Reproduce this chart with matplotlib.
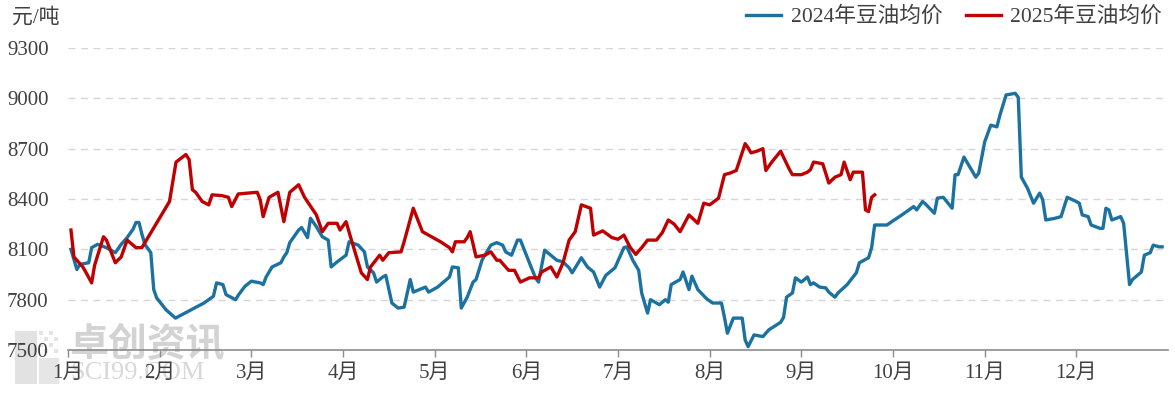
import calendar
import matplotlib
matplotlib.use("Agg")
import matplotlib.pyplot as plt
from matplotlib.patches import Rectangle

# ---------------- data ----------------
dates_2024 = [
    "01-02", "01-04", "01-05", "01-08", "01-09", "01-11", "01-14", "01-17", "01-19", "01-21",
    "01-23", "01-24", "01-25", "01-26", "01-27", "01-29", "01-30", "01-31",
    "02-03", "02-06", "02-08", "02-11", "02-15", "02-18", "02-19", "02-21", "02-22", "02-25",
    "02-26", "02-28",
    "03-01", "03-04", "03-05", "03-06", "03-08", "03-11", "03-12", "03-13", "03-14", "03-17",
    "03-18", "03-20", "03-21", "03-23", "03-25", "03-27", "03-28", "03-30",
    "04-02", "04-03", "04-06", "04-08", "04-09", "04-11", "04-12", "04-14", "04-15", "04-17",
    "04-19", "04-21", "04-23", "04-24", "04-28", "04-29",
    "05-02", "05-06", "05-07", "05-09", "05-10", "05-12", "05-14", "05-15", "05-17", "05-20",
    "05-22", "05-24", "05-25", "05-27", "05-29", "05-30", "05-31",
    "06-02", "06-04", "06-05", "06-07", "06-09", "06-11", "06-13", "06-15", "06-16", "06-19",
    "06-21", "06-23", "06-25", "06-27", "06-30",
    "07-03", "07-04", "07-06", "07-08", "07-09", "07-11", "07-12", "07-15", "07-17", "07-18",
    "07-19", "07-22", "07-23", "07-25", "07-26", "07-28", "07-31",
    "08-02", "08-05", "08-06", "08-07", "08-09", "08-12", "08-13", "08-14", "08-16", "08-19",
    "08-21", "08-25", "08-26", "08-27", "08-29", "08-30",
    "09-01", "09-03", "09-04", "09-05", "09-07", "09-09", "09-10", "09-12", "09-13", "09-16",
    "09-19", "09-20", "09-23", "09-24", "09-25", "09-29",
    "10-01", "10-04", "10-08", "10-09", "10-11", "10-12", "10-15", "10-16", "10-18", "10-21",
    "10-22", "10-23", "10-25", "10-29", "10-30",
    "11-01", "11-03", "11-05", "11-06", "11-08", "11-11", "11-12", "11-13", "11-15", "11-17",
    "11-19", "11-20", "11-21", "11-24", "11-26", "11-28",
    "12-01", "12-02", "12-03", "12-05", "12-06", "12-09", "12-10", "12-11", "12-12", "12-13",
    "12-16", "12-17", "12-19", "12-20", "12-23", "12-24", "12-26", "12-27", "12-29", "12-30",
]
price_2024 = [
    8100, 7980, 8010, 8020, 8110, 8130, 8110, 8080, 8130, 8170,
    8220, 8260, 8260, 8190, 8130, 8080, 7860, 7810,
    7740, 7690, 7710, 7740, 7780, 7820, 7900, 7890, 7830, 7800,
    7830, 7880,
    7910, 7900, 7890, 7935, 7995, 8020, 8055, 8080, 8140, 8215,
    8230, 8170, 8285, 8235, 8175, 8155, 7995, 8025,
    8065, 8145, 8125, 8085, 7995, 7960, 7905, 7935, 7945, 7780,
    7750, 7755, 7920, 7845, 7875, 7845,
    7875, 7935, 7995, 7990, 7750, 7815, 7905, 7920, 8035, 8125,
    8140, 8125, 8085, 8065, 8155, 8155, 8110,
    8020, 7930, 7905, 8095, 8065, 8035, 8025, 7990, 7960, 8050,
    7995, 7965, 7875, 7945, 7990,
    8110, 8115, 8035, 7975, 7840, 7720, 7800, 7770, 7800, 7785,
    7890, 7920, 7965, 7860, 7940, 7860, 7805,
    7780, 7780, 7695, 7600, 7690, 7690, 7560, 7520, 7590, 7580,
    7620, 7665, 7695, 7815, 7840, 7930,
    7905, 7935, 7890, 7900, 7875, 7870, 7845, 7815, 7840, 7890,
    7960, 8020, 8050, 8110, 8245, 8245,
    8270, 8305, 8355, 8335, 8385, 8370, 8315, 8405, 8410, 8345,
    8545, 8545, 8650, 8530, 8555,
    8740, 8840, 8830, 8900, 9020, 9030, 9005, 8530, 8465, 8375,
    8435, 8395, 8275, 8285, 8295, 8410,
    8385, 8375, 8305, 8295, 8245, 8225, 8225, 8345, 8335, 8275,
    8295, 8255, 7890, 7920, 7965, 8065, 8080, 8125, 8115, 8115,
]

dates_2025 = [
    "01-02", "01-03", "01-06", "01-07", "01-09", "01-10", "01-13", "01-14", "01-17", "01-19",
    "01-21", "01-24", "01-26",
    "02-04", "02-06", "02-07", "02-09", "02-10", "02-11", "02-12", "02-14", "02-16", "02-17",
    "02-20", "02-22", "02-23", "02-25",
    "03-03", "03-04", "03-05", "03-07", "03-10", "03-12", "03-14", "03-17", "03-19", "03-23",
    "03-25", "03-27", "03-30", "03-31",
    "04-02", "04-04", "04-07", "04-09", "04-10", "04-13", "04-14", "04-16", "04-20", "04-21",
    "04-24", "04-27",
    "05-03", "05-06", "05-07", "05-08", "05-11", "05-12", "05-13", "05-15", "05-18", "05-20",
    "05-22", "05-23", "05-26", "05-28", "05-30",
    "06-02", "06-05", "06-06", "06-09", "06-11", "06-13", "06-15", "06-17", "06-19", "06-22",
    "06-23", "06-26", "06-29",
    "07-01", "07-03", "07-05", "07-07", "07-09", "07-11", "07-14", "07-16", "07-18", "07-20",
    "07-22", "07-25", "07-28", "07-30",
    "08-01", "08-04", "08-06", "08-08", "08-10", "08-13", "08-14", "08-15", "08-17", "08-19",
    "08-20", "08-22", "08-25", "08-28", "08-29",
    "09-01", "09-03", "09-04", "09-05", "09-08", "09-10", "09-12", "09-14", "09-15", "09-17",
    "09-18", "09-21", "09-22", "09-23", "09-24", "09-25",
]
price_2025 = [
    8215, 8055, 7995, 7965, 7900, 8005, 8175, 8155, 8020, 8055,
    8155, 8110, 8110,
    8385, 8620, 8635, 8665, 8635, 8455, 8440, 8385, 8365, 8425,
    8420, 8410, 8355, 8430,
    8440, 8395, 8295, 8410, 8440, 8265, 8440, 8485, 8410, 8305,
    8205, 8255, 8255, 8215,
    8265, 8140, 7960, 7920, 7995, 8065, 8035, 8080, 8085, 8145,
    8345, 8205,
    8145, 8110, 8085, 8145, 8145, 8170, 8205, 8055, 8065, 8085,
    8035, 8035, 7975, 7975, 7905,
    7930, 7930, 7965, 7995, 7935, 8020, 8155, 8205, 8365, 8345,
    8185, 8210, 8170,
    8160, 8185, 8115, 8070, 8110, 8155, 8155, 8200, 8275, 8250,
    8205, 8305, 8255, 8375,
    8365, 8405, 8545, 8555, 8570, 8730, 8705, 8675, 8685, 8700,
    8570, 8620, 8685, 8575, 8545,
    8545, 8560, 8575, 8620, 8610, 8495, 8530, 8545, 8620, 8515,
    8560, 8560, 8335, 8325, 8410, 8425,
]

month_labels = ["1月", "2月", "3月", "4月", "5月", "6月", "7月", "8月", "9月", "10月", "11月", "12月"]
y_ticks = [7500, 7800, 8100, 8400, 8700, 9000, 9300]
series_names = ["2024年豆油均价", "2025年豆油均价"]
unit_label = "元/吨"


def month_pos(year, mmdd):
    m, d = (int(s) for s in mmdd.split("-"))
    ndays = calendar.monthrange(year, m)[1]
    return (m - 1) + (d - 1) / ndays


x24 = [month_pos(2024, s) for s in dates_2024]
x25 = [month_pos(2025, s) for s in dates_2025]

# ---------------- style ----------------
FONT = ["Liberation Serif", "Noto Sans CJK SC", "DejaVu Sans"]
plt.rcParams["font.family"] = FONT
TXT = "#404040"
BLUE = "#1b72a0"
RED = "#c00000"

W, H = 1175, 394
fig = plt.figure(figsize=(W / 100, H / 100), dpi=100)

# watermark (drawn first, behind everything)
wm = fig.add_axes([0, 0, 1, 1], zorder=-5)
wm.set_axis_off()
wm.set_xlim(0, W)
wm.set_ylim(H, 0)
wm.add_patch(Rectangle((15, 331), 22, 53, facecolor="#e2e2e2", edgecolor="none"))
wm.add_patch(Rectangle((39, 358), 20, 26, facecolor="#e6e6e6", edgecolor="none"))
for i in range(4):
    for j in range(4):
        if (i + j) % 2 == 0:
            wm.add_patch(Rectangle((39 + i * 5, 331 + j * 6), 4, 4,
                                   facecolor="#e4e4e4", edgecolor="none"))
wm.text(69, 344, "卓创资讯", fontsize=28, color="#d3d3d3",
        family=["Noto Sans CJK SC"], fontweight="bold", va="center", ha="left")
wm.text(70, 373, "SCI99.COM", fontsize=19, color="#d8d8d8",
        va="center", ha="left")

ax = fig.add_axes([68 / W, 1 - 350 / H, (1168 - 68) / W, (350 - 48) / H], zorder=1)
ax.patch.set_alpha(0)

l1, = ax.plot(x24, price_2024, color=BLUE, lw=2.4, solid_joinstyle="round", zorder=3)
l2, = ax.plot(x25, price_2025, color=RED, lw=2.4, solid_joinstyle="round", zorder=4)

ax.set_xlim(0, 12)
ax.set_ylim(7500, 9300)
ax.set_yticks(y_ticks)
ax.set_yticklabels([str(v) for v in y_ticks])
ax.set_xticks(range(12))
ax.set_xticklabels(month_labels)

for v in y_ticks[1:]:
    ax.axhline(v, color="#d6d6d6", lw=1.0, ls=(0, (5, 4)), zorder=1)

for s in ["top", "right", "left"]:
    ax.spines[s].set_visible(False)
ax.spines["bottom"].set_color("#8c8c8c")
ax.spines["bottom"].set_linewidth(1.2)

ax.tick_params(axis="y", length=0, pad=14, labelsize=15, labelcolor=TXT)
ax.tick_params(axis="x", length=5, width=1.0, color="#8c8c8c", pad=5,
               labelsize=15, labelcolor=TXT)

fig.text(12 / W, 1 - 18 / H, unit_label, fontsize=15, color=TXT, va="center", ha="left")

fig.legend([l1, l2], series_names, loc="center right", ncol=2, frameon=False,
           bbox_to_anchor=(1162 / W, 1 - 17 / H), borderpad=0, borderaxespad=0,
           handlelength=1.6, handletextpad=0.45, columnspacing=1.1,
           prop={"size": 15.6}, labelcolor=TXT)

fig.savefig("out.png", dpi=100)
